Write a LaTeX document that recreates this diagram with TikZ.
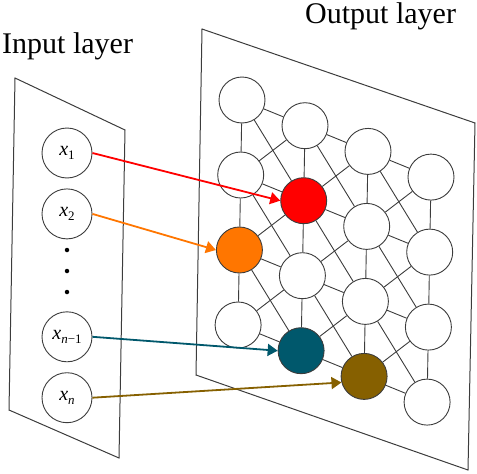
\documentclass[tikz,border=0pt]{standalone}
\usepackage{fontspec}
\setmainfont{Liberation Serif}
\usepackage{tikz}
\usetikzlibrary{positioning, arrows.meta}

\definecolor{hitred}{RGB}{255,0,0}
\definecolor{hitorange}{RGB}{255,118,0}
\definecolor{hitteal}{RGB}{0,88,108}
\definecolor{hitbrown}{RGB}{134,96,0}
\definecolor{linegray}{RGB}{60,60,60}

\newcommand{\xin}[1]{\textit{x}\raisebox{-0.45ex}{\fontsize{13}{13}\selectfont #1}}

\begin{document}
\begin{tikzpicture}[x=1pt, y=-1pt, >={Triangle[length=10pt, width=12pt]},
    node distance=10pt,
    neuron/.style={circle, draw=linegray, line width=0.9pt, fill=white, minimum size=46pt, inner sep=0pt},
    innode/.style={circle, draw=linegray, line width=0.9pt, minimum size=50pt, inner sep=0pt, font=\fontsize{20}{20}\selectfont},
    dot/.style={circle, fill=black, minimum size=4.5pt, inner sep=0pt},
    plane/.style={draw=linegray, line width=1pt},
    link/.style={draw=linegray, line width=0.9pt},
    title/.style={anchor=base west, inner sep=0pt, font=\fontsize{30}{30}\selectfont},
    fill11/.style={fill=hitred},
    fill02/.style={fill=hitorange},
    fill13/.style={fill=hitteal},
    fill23/.style={fill=hitbrown},
]
\useasboundingbox (0,0) rectangle (477,474);

% Layer planes
\draw[plane] (15,78) -- (125,130) -- (119,458) -- (9,410) -- cycle;
\draw[plane] (202,29) -- (475,123) -- (468,470) -- (196,375) -- cycle;

% Titles
\node (intitle) [title] at (2,53) {Input layer};
\node (outtitle) [title] at (305,23) {Output layer};

% Input nodes
\node (x1) [innode] at (67,153) {\xin{1}};
\node (x2) [innode, below=of x1] {\xin{2}};
\node (xn1) [innode, below=72pt of x2] {\xin{\textit{n}−1}};
\node (xn) [innode, below=of xn1] {\xin{\textit{n}}};
\foreach \y [count=\i] in {250,271,292}
    \node (dot\i) [dot] at (67,\y) {};

% Output grid
\foreach \c in {0,...,3} {
    \foreach \r in {0,...,3} {
        \node (n\c\r) [neuron, fill\c\r/.try] at ({242+63*\c-1.3*\r},{100+25.7*\c+75*\r}) {};
    }
}

% Grid links
\foreach \c in {0,...,3} {
    \foreach \r in {0,1,2} {
        \pgfmathtruncatemacro{\rn}{\r+1}
        \draw[link] (n\c\r) -- (n\c\rn);
    }
}
\foreach \c in {0,1,2} {
    \pgfmathtruncatemacro{\cn}{\c+1}
    \foreach \r in {0,...,3} {
        \draw[link] (n\c\r) -- (n\cn\r);
    }
    \foreach \r in {0,1,2} {
        \pgfmathtruncatemacro{\rn}{\r+1}
        \draw[link] (n\c\r) -- (n\cn\rn);
        \draw[link] (n\cn\r) -- (n\c\rn);
    }
}

% Connection arrows
\draw[->, hitred, line width=1.8pt] (x1.east) -- (n11.west);
\draw[->, hitorange, line width=1.8pt] (x2.east) -- (n02.west);
\draw[->, hitteal, line width=1.8pt] (xn1.east) -- (n13.west);
\draw[->, hitbrown, line width=1.8pt] (xn.east) -- (n23.195);

\end{tikzpicture}
\end{document}
